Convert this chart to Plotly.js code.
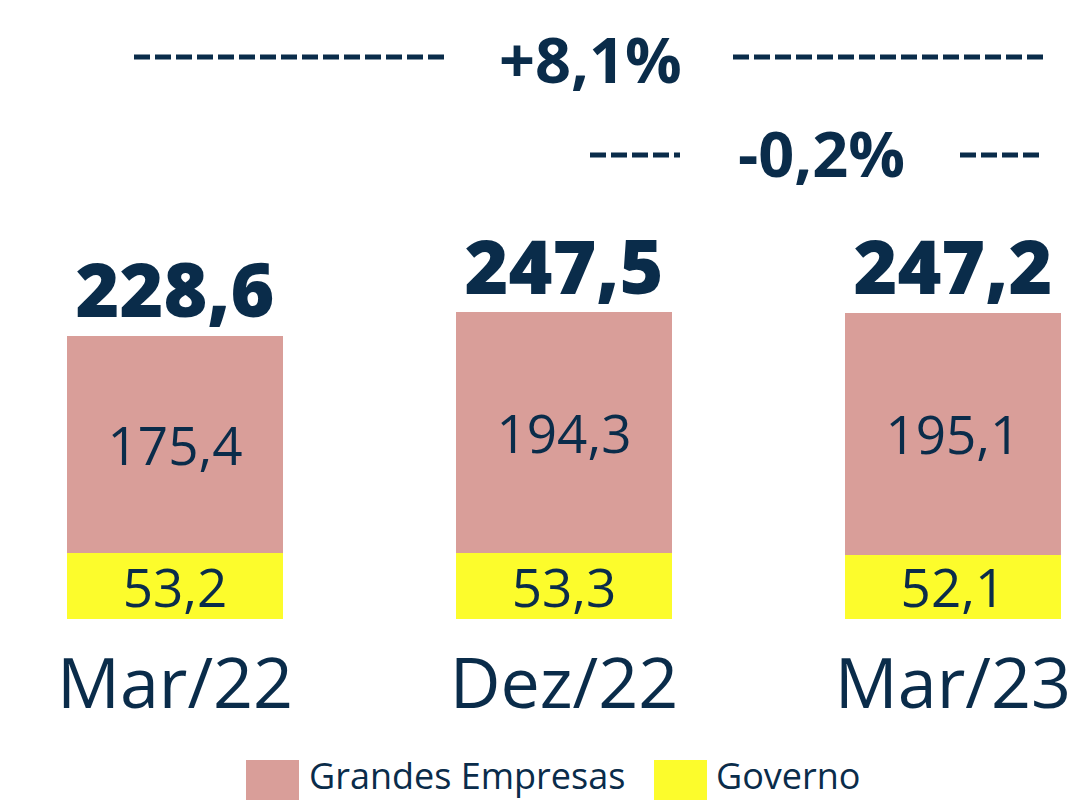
<!DOCTYPE html>
<html><head><meta charset="utf-8">
<script src="https://cdn.plot.ly/plotly-3.0.1.min.js"></script>
<style>html,body{margin:0;padding:0;background:#fff;}#chart{width:1077px;height:802px;}</style>
</head><body><div id="chart"></div>
<script>
const categories = ['Mar/22', 'Dez/22', 'Mar/23'];
const governo = [53.2, 53.3, 52.1];
const grandesEmpresas = [175.4, 194.3, 195.1];
const totals = [228.6, 247.5, 247.2];
const growthLabels = ['+8,1%', '-0,2%'];
const seriesNames = ['Grandes Empresas', 'Governo'];

const NAVY = '#0a2c4a';
const PINK = '#d99e99';
const YELLOW = '#fcfc2c';
const W = 1077, H = 802, PLOT_H = 619;
const px = x => x / W;
const py = y => (PLOT_H - y) / PLOT_H;

const traces = [
  {type:'bar', name: seriesNames[1], x: categories, y: governo, marker:{color: YELLOW},
   width: 0.555, texttemplate:'%{y:.1f}', textposition:'inside', insidetextanchor:'middle',
   textfont:{family:'Open Sans', size:53, color:NAVY}, constraintext:'none', hoverinfo:'none', showlegend:false},
  {type:'bar', name: seriesNames[0], x: categories, y: grandesEmpresas, marker:{color: PINK},
   width: 0.555, texttemplate:'%{y:.1f}', textposition:'inside', insidetextanchor:'middle',
   textfont:{family:'Open Sans', size:53, color:NAVY}, constraintext:'none', hoverinfo:'none', showlegend:false},
  {type:'scatter', mode:'text', x: categories, y: totals, texttemplate:'%{y:.1f}', textposition:'top center',
   textfont:{family:'Open Sans', size:75, color:NAVY, weight:800}, hoverinfo:'none', showlegend:false, cliponaxis:false}
];

const dash = '16px,5px';
const shapes = [
  {x0:134, x1:447, y:57}, {x0:733, x1:1043, y:57},
  {x0:590, x1:680, y:155}, {x0:960, x1:1043, y:155}
].map(s => ({type:'line', xref:'paper', yref:'paper', x0:px(s.x0), x1:px(s.x1), y0:py(s.y), y1:py(s.y),
  line:{color:NAVY, width:5, dash:dash}}));

// legend swatches
shapes.push({type:'rect', xref:'paper', yref:'paper', x0:px(246), x1:px(299), y0:py(760), y1:py(800), fillcolor:PINK, line:{width:0}});
shapes.push({type:'rect', xref:'paper', yref:'paper', x0:px(654), x1:px(707), y0:py(760), y1:py(800), fillcolor:YELLOW, line:{width:0}});

const annotations = [
  {text: growthLabels[0], x:px(590), y:py(58), xref:'paper', yref:'paper', showarrow:false,
   font:{family:'Open Sans', size:63, color:NAVY, weight:700}, xanchor:'center', yanchor:'middle'},
  {text: growthLabels[1], x:px(821), y:py(152), xref:'paper', yref:'paper', showarrow:false,
   font:{family:'Open Sans', size:63, color:NAVY, weight:700}, xanchor:'center', yanchor:'middle'},
  {text: seriesNames[0], x:px(307), y:py(802), xref:'paper', yref:'paper', showarrow:false,
   font:{family:'Open Sans', size:36, color:NAVY}, xanchor:'left', yanchor:'bottom'},
  {text: seriesNames[1], x:px(714), y:py(802), xref:'paper', yref:'paper', showarrow:false,
   font:{family:'Open Sans', size:36, color:NAVY}, xanchor:'left', yanchor:'bottom'}
];

const layout = {
  width: W, height: H,
  margin:{l:0, r:0, t:0, b:H - PLOT_H, pad:0},
  barmode:'stack',
  separators:',.',
  paper_bgcolor:'#ffffff', plot_bgcolor:'#ffffff',
  showlegend:false,
  xaxis:{type:'category', range:[-0.45, 2.319], showgrid:false, zeroline:false, showline:false,
    ticks:'outside', ticklen:4, tickcolor:'rgba(0,0,0,0)',
    tickfont:{family:'Open Sans', size:70, color:NAVY}, fixedrange:true},
  yaxis:{range:[0, 500], visible:false, showgrid:false, zeroline:false, fixedrange:true},
  shapes: shapes,
  annotations: annotations
};

Plotly.newPlot('chart', traces, layout, {displayModeBar:false, staticPlot:true});
</script>
</body></html>
